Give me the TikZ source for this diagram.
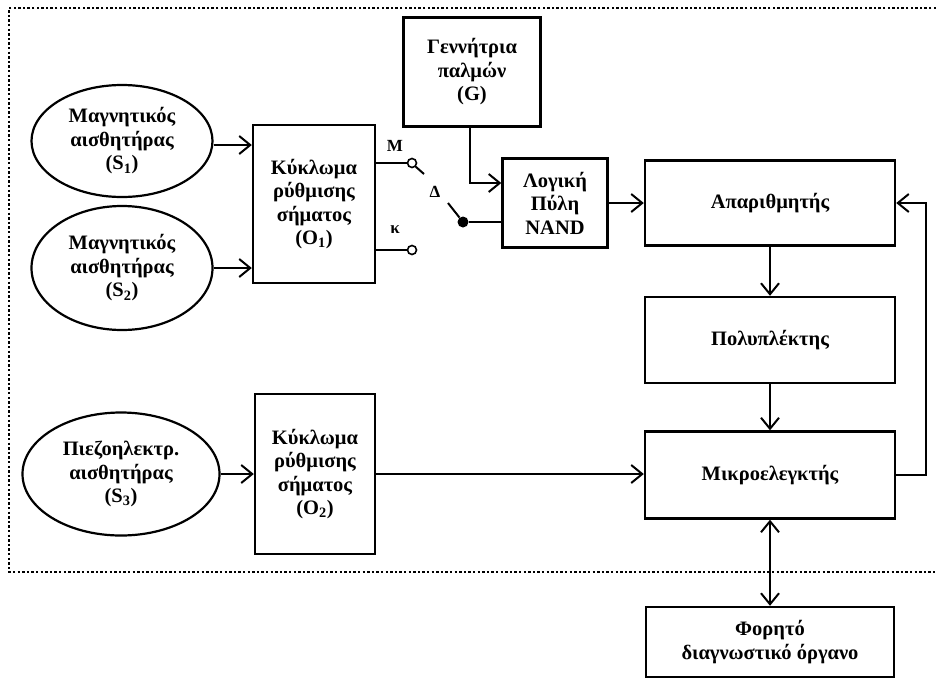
\documentclass[tikz,border=0pt]{standalone}
\usepackage{fontspec}
\setmainfont{Liberation Serif}
\usetikzlibrary{positioning}
\usetikzlibrary{arrows.meta}
\usetikzlibrary{shapes.geometric}

\tikzset{
  blok/.style={draw, line width=2.4pt, align=center, inner sep=0pt,
    font=\fontsize{20.5}{23.5}\selectfont\bfseries},
  aisth/.style={draw, ellipse, line width=2.2pt, align=center, inner sep=0pt,
    font=\fontsize{20.5}{23.5}\selectfont\bfseries},
  aixmi/.tip={Straight Barb[length=11pt,width=18pt,line width=2pt]},
  syn/.style={line width=2pt, -aixmi},
  gram/.style={line width=2pt},
  epafi/.style={circle, draw, line width=1.6pt, minimum size=9pt, inner sep=0pt, fill=white},
  plaisio/.style={line width=2.4pt, dash pattern=on 2.4pt off 2.2pt},
  etik/.style={font=\fontsize{17}{19}\selectfont\bfseries, inner sep=0pt}
}

\begin{document}
\begin{tikzpicture}[x=1pt,y=-1pt]
\useasboundingbox (0,0) rectangle (936,681);
\draw[plaisio] (936,8) -- (9,8) -- (9,572) -- (936,572);

% aisthitires
\node[aisth, minimum width=181pt, minimum height=112pt] (S1) at (122,141) {Μαγνητικός\\αισθητήρας\\(S\textsubscript{1})};
\node[aisth, minimum width=181pt, minimum height=124pt] (S2) at (122,268) {Μαγνητικός\\αισθητήρας\\(S\textsubscript{2})};
\node[aisth, minimum width=197pt, minimum height=123pt] (S3) at (121,474) {Πιεζοηλεκτρ.\\αισθητήρας\\(S\textsubscript{3})};

% kyklomata
\node[blok, minimum width=122pt, minimum height=158pt] (O1) at (314,204) {Κύκλωμα\\ρύθμισης\\σήματος\\(O\textsubscript{1})};
\node[blok, minimum width=120pt, minimum height=160pt] (O2) at (315,474) {Κύκλωμα\\ρύθμισης\\σήματος\\(O\textsubscript{2})};
\node[blok, minimum width=137pt, minimum height=109pt] (G) at (472,72) {Γεννήτρια\\παλμών\\(G)};
\node[blok, minimum width=105pt, minimum height=89pt] (nand) at (555,203) {Λογική\\Πύλη\\NAND};

\node[blok, minimum width=250pt, minimum height=85pt] (apar) at (770,203) {Απαριθμητής};
\node[blok, minimum width=250pt, minimum height=86pt] (poly) at (770,340) {Πολυπλέκτης};
\node[blok, minimum width=250pt, minimum height=87pt] (mikro) at (770,475) {Μικροελεγκτής};
\node[blok, minimum width=248pt, minimum height=70pt] (forito) at (770,642) {Φορητό\\διαγνωστικό όργανο};

% diakoptis
\node[epafi] (kM) at (412,163) {};
\node[epafi] (kK) at (412,250) {};
\node[circle, fill, minimum size=11pt, inner sep=0pt] (delta) at (463,222) {};
\coordinate (mochlosM) at (424,174);
\coordinate (mochlosD) at (448,203);
\node[etik] (labM) at (395,146) {Μ};
\node[etik] (labK) at (395,230) {κ};
\node[etik] (labD) at (435,192) {Δ};

\draw[syn] (S1.east |- 0,145) -- (O1.west |- 0,145);
\draw[syn] (S2.east) -- (O1.west |- S2.east);
\draw[syn] (S3.east) -- (O2.west |- S3.east);
\draw[gram] (O1.east |- kM) -- (kM);
\draw[gram] (O1.east |- kK) -- (kK);
\draw[gram] (kM.south east) -- (mochlosM);
\draw[gram] (delta) -- (mochlosD);
\draw[gram] (delta) -- (delta -| nand.west);
\draw[syn] (G.south -| 470,0) |- ([yshift=20pt]nand.west);
\draw[syn] (nand.east) -- (apar.west);
\draw[syn] (apar) -- (poly);
\draw[syn] (poly) -- (mikro);
\draw[syn] (O2.east) -- (O2.east -| mikro.west);
\draw[syn] (mikro.east) -- ++(30,0) |- (apar.east);
\draw[syn, aixmi-aixmi] (mikro) -- (forito);
\end{tikzpicture}
\end{document}
